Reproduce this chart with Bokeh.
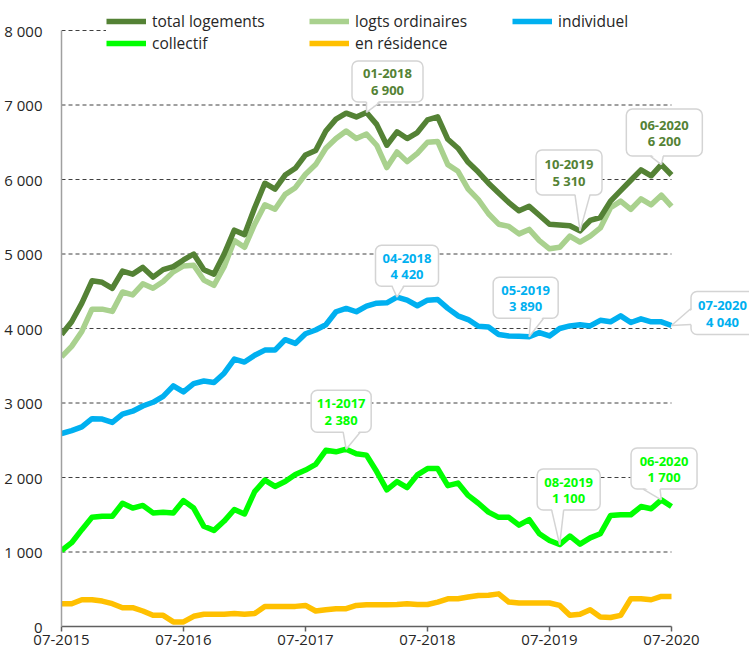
from bokeh.plotting import figure
from bokeh.models import Range1d, FixedTicker, Legend, LegendItem
from bokeh.embed import file_html
from bokeh.resources import INLINE

# ---------------- data ----------------
months = [f"{(6 + i) % 12 + 1:02d}-{2015 + (6 + i) // 12}" for i in range(61)]

total_logements = [3920, 4090, 4340, 4640, 4620, 4540, 4770, 4730, 4820, 4690,
                   4790, 4830, 4920, 5000, 4790, 4730, 5000, 5320, 5260, 5620,
                   5950, 5870, 6060, 6150, 6330, 6390, 6650, 6810, 6890, 6840,
                   6900, 6740, 6460, 6640, 6550, 6630, 6800, 6840, 6540, 6420,
                   6230, 6100, 5950, 5820, 5690, 5580, 5640, 5520, 5400, 5390,
                   5380, 5310, 5450, 5490, 5710, 5850, 5990, 6130, 6050, 6200, 6060]
logts_ordinaires = [3620, 3760, 3960, 4260, 4260, 4230, 4490, 4450, 4600, 4540,
                    4630, 4760, 4840, 4850, 4650, 4580, 4830, 5180, 5090, 5400,
                    5660, 5600, 5800, 5890, 6070, 6200, 6420, 6550, 6650, 6550,
                    6610, 6460, 6160, 6370, 6240, 6350, 6500, 6510, 6200, 6110,
                    5870, 5730, 5540, 5400, 5370, 5270, 5330, 5180, 5070, 5090,
                    5240, 5160, 5240, 5350, 5620, 5710, 5600, 5740, 5660, 5790, 5640]
individuel = [2590, 2630, 2680, 2790, 2785, 2740, 2850, 2890, 2960, 3010,
              3090, 3230, 3150, 3260, 3295, 3275, 3400, 3590, 3550, 3640,
              3710, 3710, 3850, 3800, 3930, 3980, 4050, 4225, 4270, 4225,
              4300, 4340, 4345, 4420, 4380, 4305, 4380, 4390, 4270, 4170,
              4120, 4030, 4020, 3920, 3900, 3895, 3890, 3945, 3900, 4000,
              4035, 4050, 4035, 4110, 4090, 4170, 4080, 4130, 4090, 4090, 4040]
collectif = [1020, 1125, 1300, 1465, 1480, 1480, 1655, 1590, 1625, 1525,
             1535, 1525, 1690, 1590, 1345, 1290, 1415, 1570, 1510, 1810,
             1965, 1880, 1945, 2040, 2100, 2175, 2365, 2345, 2380, 2320,
             2300, 2080, 1835, 1945, 1865, 2035, 2120, 2120, 1890, 1925,
             1760, 1655, 1535, 1465, 1465, 1360, 1435, 1245, 1155, 1100,
             1215, 1105, 1190, 1245, 1490, 1500, 1500, 1610, 1580, 1700, 1610]
en_residence = [306, 306, 359, 359, 341, 306, 252, 252, 208, 150,
                150, 62, 62, 137, 164, 164, 164, 173, 164, 173,
                270, 270, 270, 270, 283, 208, 226, 239, 239, 283,
                292, 292, 292, 296, 306, 296, 296, 328, 372, 372,
                395, 416, 420, 438, 328, 315, 315, 315, 315, 283,
                150, 164, 226, 129, 120, 150, 372, 372, 359, 403, 403]

y_ticks = [0, 1000, 2000, 3000, 4000, 5000, 6000, 7000, 8000]
x_tick_labels = ["07-2015", "07-2016", "07-2017", "07-2018", "07-2019", "07-2020"]

series_names = ["total logements", "logts ordinaires", "individuel", "collectif", "en résidence"]
series_values = {"total logements": total_logements, "logts ordinaires": logts_ordinaires,
                 "individuel": individuel, "collectif": collectif, "en résidence": en_residence}

callout_series = ["total logements", "total logements", "total logements",
                  "individuel", "individuel", "individuel",
                  "collectif", "collectif", "collectif"]
callout_months = ["01-2018", "10-2019", "06-2020",
                  "04-2018", "05-2019", "07-2020",
                  "11-2017", "08-2019", "06-2020"]

# ---------------- styles ----------------
colors = {"total logements": "#548235", "logts ordinaires": "#A9D18E",
          "individuel": "#00B0F0", "collectif": "#00FF00", "en résidence": "#FFC000"}
draw_order = ["en résidence", "collectif", "individuel", "logts ordinaires", "total logements"]

# callout box: centre offset from point (px, screen, y down), box size, tail side and base span
callout_style = [
    dict(dx=21, dy=-31, w=71, h=41, side="bottom", b=(-21, -7)),
    dict(dx=-11, dy=-58.5, w=66, h=45, side="bottom", b=(6, 21)),
    dict(dx=3, dy=-32, w=76, h=47, side="bottom", b=(-14, -1)),
    dict(dx=10, dy=-31.5, w=63, h=41, side="bottom", b=(-15, -3)),
    dict(dx=-3.5, dy=-39, w=65, h=41, side="bottom", b=(5, 18)),
    dict(dx=51, dy=-12.5, w=63, h=43, side="left", b=(-4.5, 11.5)),
    dict(dx=-5, dy=-38, w=60, h=42, side="bottom", b=(2, 19)),
    dict(dx=9, dy=-55, w=63, h=41, side="bottom", b=(-17, -5)),
    dict(dx=2.7, dy=-31.3, w=66, h=41, side="bottom", b=(-21, -4)),
]

FONT = "Open Sans"
FRAME_W, FRAME_H = 688, 626
BL = 61
n = len(months)
TOP_GAP = 30.0                         # px from frame top to the 8 000 line
KX = 610.0 / (n - 1)                   # px per month
KY = (FRAME_H - TOP_GAP) / y_ticks[-1] # px per unit
x_end = FRAME_W / KX
y_end = FRAME_H / KY

p = figure(frame_width=FRAME_W, frame_height=FRAME_H,
           x_range=Range1d(0, x_end), y_range=Range1d(0, y_end),
           output_backend="svg", toolbar_location=None,
           min_border_left=BL, min_border_right=0, min_border_top=0, min_border_bottom=0)
p.outline_line_color = None
p.background_fill_color = "white"
p.border_fill_color = "white"
p.xgrid.visible = False
p.ygrid.visible = False

# axes
p.yaxis.ticker = FixedTicker(ticks=y_ticks)
p.yaxis.major_label_overrides = {t: f"{t:,}".replace(",", " ") for t in y_ticks}
p.yaxis.bounds = (y_ticks[0], y_ticks[-1])
p.yaxis.axis_line_color = "#a0a0a0"
p.yaxis.axis_line_width = 1.5
p.yaxis.major_tick_line_color = None
p.yaxis.minor_tick_line_color = None
p.yaxis.major_label_standoff = 13
p.yaxis.major_label_text_font = FONT
p.yaxis.major_label_text_font_size = "15px"
p.yaxis.major_label_text_color = "#262626"

xt = [months.index(m) for m in x_tick_labels]
p.xaxis.ticker = FixedTicker(ticks=xt)
p.xaxis.major_label_overrides = {i: months[i] for i in xt}
p.xaxis.bounds = (0, n - 1)
p.xaxis.axis_line_color = "#606060"
p.xaxis.axis_line_width = 1.5
p.xaxis.major_tick_line_color = "#606060"
p.xaxis.major_tick_line_width = 1.5
p.xaxis.major_tick_out = 5
p.xaxis.major_tick_in = 0
p.xaxis.minor_tick_line_color = None
p.xaxis.major_label_standoff = 3
p.xaxis.major_label_text_font = FONT
p.xaxis.major_label_text_font_size = "15px"
p.xaxis.major_label_text_color = "#262626"

# gridlines
gy = y_ticks[1:]
p.segment(x0=[0] * len(gy), y0=gy, x1=[n - 1] * len(gy), y1=gy,
          line_color="#404040", line_width=1, line_dash="4 3")

xs = list(range(n))
renderers = {}
for name in draw_order:
    renderers[name] = p.line(xs, series_values[name], line_color=colors[name],
                             line_width=5.5, line_join="round")

# callouts
def to_data(i, v, sx, sy):
    return i + sx / KX, v - sy / KY

for name, mlab, st in zip(callout_series, callout_months, callout_style):
    i = months.index(mlab)
    v = series_values[name][i]
    col = colors[name]
    cx, cy = st["dx"], st["dy"]
    w, h = st["w"], st["h"]
    bx, by = to_data(i, v, cx, cy)
    r = p.rect(x=[bx], y=[by], width=[w], height=[h], width_units="screen",
               height_units="screen", fill_color="white", line_color="#d4d4d4", line_width=1.5)
    try:
        r.glyph.border_radius = 6
    except Exception:
        pass
    b0, b1 = st["b"]
    if st["side"] == "bottom":
        e = cy + h / 2.0
        pts = [(cx + b0, e), (cx + b1, e)]
        inner = [(cx + b0, e - 2.5), (cx + b1, e - 2.5)]
    else:
        e = cx - w / 2.0
        pts = [(e, cy + b0), (e, cy + b1)]
        inner = [(e + 2.5, cy + b0), (e + 2.5, cy + b1)]
    ax_, ay_ = float(i), float(v)
    px_ = [to_data(i, v, *q) for q in inner]
    p.patch([ax_, px_[0][0], px_[1][0]], [ay_, px_[0][1], px_[1][1]],
            fill_color="white", line_color=None)
    e_ = [to_data(i, v, *q) for q in pts]
    p.multi_line([[ax_, e_[0][0]], [ax_, e_[1][0]]], [[ay_, e_[0][1]], [ay_, e_[1][1]]],
                 line_color="#d4d4d4", line_width=1.5)
    t1 = to_data(i, v, cx, cy - 7.5)
    t2 = to_data(i, v, cx, cy + 8.5)
    val = f"{v:,}".replace(",", " ")
    p.text(x=[t1[0], t2[0]], y=[t1[1], t2[1]], text=[mlab, val],
           text_align="center", text_baseline="middle", text_color=col,
           text_font={"value": FONT}, text_font_size="13px", text_font_style="bold")

legend = Legend(items=[LegendItem(label=nm, renderers=[renderers[nm]]) for nm in series_names],
                location=(45, FRAME_H - 54), orientation="horizontal", ncols=3)
legend.label_text_font = FONT
legend.label_text_font_size = "15.5px"
legend.label_text_color = "#262626"
legend.glyph_width = 40
legend.glyph_height = 16
legend.label_height = 16
legend.label_standoff = 6
legend.label_width = 157
legend.spacing = 0
legend.padding = 2
legend.margin = 0
legend.border_line_color = None
legend.background_fill_color = "white"
legend.background_fill_alpha = 1.0
p.add_layout(legend)

open("out.html", "w").write(file_html(p, INLINE))
